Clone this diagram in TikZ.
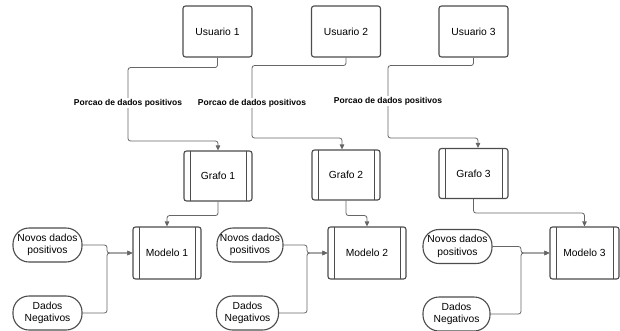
\documentclass[tikz,border=0pt]{standalone}
\usepackage{fontspec}
\setmainfont{Liberation Sans}
\usetikzlibrary{arrows.meta, positioning, calc}

\tikzset{
  caixa/.style={draw=black!70, line width=1.1pt, rounded corners=2.5pt, fill=white,
    minimum width=69pt, minimum height=51pt, inner sep=1pt, align=center,
    font=\fontsize{10.3}{12.5}\selectfont},
  processo/.style={caixa, minimum height=50pt,
    path picture={
      \draw[black!70, line width=1pt] ([xshift=6pt]path picture bounding box.north west) -- ([xshift=6pt]path picture bounding box.south west);
      \draw[black!70, line width=1pt] ([xshift=-6pt]path picture bounding box.north east) -- ([xshift=-6pt]path picture bounding box.south east);
    }},
  dados/.style={caixa, rounded corners=16pt, minimum height=34pt},
  rotulo/.style={fill=white, inner sep=1pt, font=\bfseries\fontsize{8.5}{10}\selectfont},
  ligacao/.style={draw=black!60, line width=0.8pt, rounded corners=2.5pt,
    -{Triangle[length=5pt, width=4.5pt]}},
}

\begin{document}
\begin{tikzpicture}[x=1pt, y=-1pt]
\useasboundingbox (0,0) rectangle (620,330);

% usuarios
\node[caixa] (u1) at (217.5,31.5) {Usuario 1};
\node[caixa] (u2) at (346,31.5) {Usuario 2};
\node[caixa] (u3) at (473.5,31.5) {Usuario 3};

% grafos
\node[processo, minimum width=68pt] (g1) at (218,176) {Grafo 1};
\node[processo, minimum width=68pt] (g2) at (346,175) {Grafo 2};
\node[processo] (g3) at (473.5,173.5) {Grafo 3};

% modelos
\node[processo, minimum height=52pt, minimum width=68pt] (m1) at (167,253) {Modelo 1};
\node[processo, minimum height=52pt, minimum width=78pt] (m2) at (367,253) {Modelo 2};
\node[processo, minimum height=52pt] (m3) at (584.5,253) {Modelo 3};

% dados de entrada
\node[dados] (n1) at (47.5,245) {Novos dados\\positivos};
\node[dados] (d1) at (47.5,313) {Dados\\Negativos};
\node[dados, minimum width=66pt] (n2) at (250,245) {Novos dados\\positivos};
\node[dados, minimum width=62pt] (d2) at (247.5,313) {Dados\\Negativos};
\node[dados] (n3) at (457.5,246.5) {Novos dados\\positivos};
\node[dados, minimum width=67pt] (d3) at (456.5,314) {Dados\\Negativos};

% pontos de juncao
\coordinate (j1) at (107,253);
\coordinate (j2) at (307,253);
\coordinate (j3) at (521,253);

% usuario -> grafo
\coordinate (l1) at (128,103);
\coordinate (l2) at (252,103);
\coordinate (l3) at (388,101);
\draw[ligacao] (u1.south) -- ++(0,10) -| (l1) -- ++(0,38) -| (g1.north);
\draw[ligacao] (u2.south) -- ++(0,8) -| (l2) -- ++(0,35) -| ([xshift=-4pt]g2.north);
\draw[ligacao] (u3.south) -- ++(0,8) -| (l3) -- ++(0,37) -| ([xshift=4.5pt]g3.north);
\node[rotulo] at (l1) {Porcao de dados positivos};
\node[rotulo] at (l2) {Porcao de dados positivos};
\node[rotulo] at (l3) {Porcao de dados positivos};

% grafo -> modelo
\draw[ligacao] (g1.south) -- ++(0,14) -| (m1.north);
\draw[ligacao] (g2.south) -- ++(0,15) -| (m2.north);
\draw[ligacao] (g3.south) -- ++(0,14) -| (m3.north);

% dados -> modelo
\foreach \i in {1,2,3} {
  \draw[ligacao] (n\i.east) -| (j\i) -- (m\i.west);
  \draw[ligacao] (d\i.east) -| (j\i) -- (m\i.west);
}
\end{tikzpicture}
\end{document}
